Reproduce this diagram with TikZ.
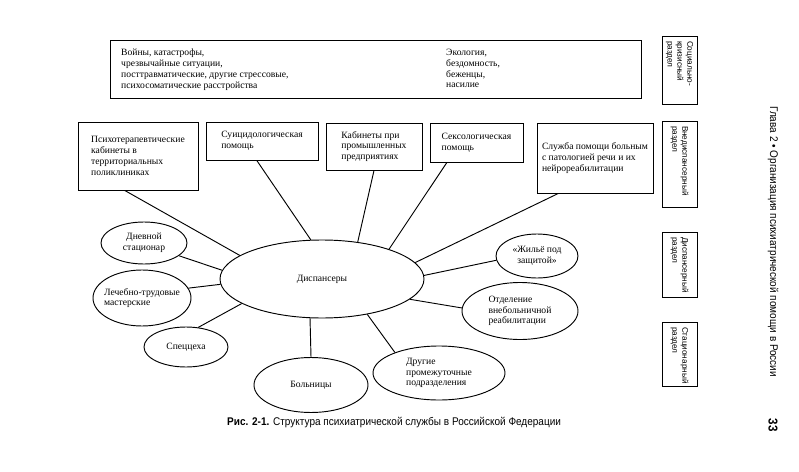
\documentclass[tikz,border=0pt]{standalone}
\usepackage{fontspec}
\setmainfont{Liberation Serif}
\newfontfamily\capfont[FakeStretch=0.9]{Liberation Sans}
\newfontfamily\sidefont{Liberation Sans}
\usetikzlibrary{shapes.geometric}

\begin{document}
\begin{tikzpicture}[x=0.03cm, y=-0.03cm,
  every node/.style={font=\fontsize{8.2}{9.2}\selectfont},
  unitbox/.style={draw, line width=0.8pt, inner sep=0pt, align=left},
  oval/.style={draw, ellipse, line width=0.8pt, inner sep=-0.5cm, align=center},
  sidebox/.style={draw, line width=0.8pt, rotate=-90, minimum height=1.05cm,
    inner xsep=0.15cm, inner ysep=0pt, align=left, font=\sidefont\fontsize{7}{8.5}\selectfont},
  link/.style={line width=0.8pt}]
\useasboundingbox (0,0) rectangle (799,472);

% top box
\node[draw, line width=0.8pt, minimum width=15.93cm, minimum height=1.74cm] (crisis) at (375.5,69) {};
\node[anchor=north west, inner sep=0pt, align=left] (war) at (121,49)
  {Войны, катастрофы,\\чрезвычайные ситуации,\\посттравматические, другие стрессовые,\\психосоматические расстройства};
\node[anchor=north west, inner sep=0pt, align=left] (eco) at (446,49)
  {Экология,\\бездомность,\\беженцы,\\насилие};

% outpatient units
\node[unitbox, minimum width=3.6cm, minimum height=2.04cm] (psy) at (138,156)
  {Психотерапевтические\\кабинеты в\\территориальных\\поликлиниках};
\node[unitbox, minimum width=3.36cm, minimum height=1.14cm] (suic) at (262,141)
  {Суицидологическая\\помощь};
\node[unitbox, minimum width=2.88cm, minimum height=1.41cm] (ind) at (374,146.5)
  {Кабинеты при\\промышленных\\предприятиях};
\node[unitbox, minimum width=2.79cm, minimum height=1.17cm] (sex) at (476.5,142.5)
  {Сексологическая\\помощь};
\node[unitbox, minimum width=3.48cm, minimum height=2.1cm] (speech) at (595,158)
  {Служба помощи больным\\с патологией речи и их\\нейрореабилитации};

% dispensary and the rest
\node[oval, minimum width=6.12cm, minimum height=2.34cm] (disp) at (322,279) {Диспансеры};
\node[oval, minimum width=2.58cm, minimum height=1.26cm] (day) at (144,243) {Дневной\\стационар};
\node[oval, align=left, minimum width=2.94cm, minimum height=1.68cm] (work) at (142,298)
  {Лечебно-трудовые\\мастерские};
\node[oval, minimum width=2.52cm, minimum height=1.2cm] (shop) at (186,347) {Спеццеха};
\node[oval, minimum width=3.42cm, minimum height=1.65cm] (hosp) at (311,385) {Больницы};
\node[oval, align=left, minimum width=3.96cm, minimum height=1.62cm] (other) at (439,373)
  {Другие\\промежуточные\\подразделения};
\node[oval, align=left, minimum width=3.48cm, minimum height=1.71cm] (rehab) at (520,311)
  {Отделение\\внебольничной\\реабилитации};
\node[oval, minimum width=2.46cm, minimum height=1.32cm] (home) at (537,256) {«Жильё под\\защитой»};

\draw[link] (psy.-111) -- (disp.164);
\draw[link] (suic.-105) -- (disp.106);
\draw[link] (ind.south) -- (disp.46);
\draw[link] (sex.-146.5) -- (disp.24);
\draw[link] (speech.-136.5) -- (disp.10.6);
\draw[link] (home.186) -- (disp.2);
\draw[link] (rehab.177) -- (disp.-13.6);
\draw[link] (other.155) -- (disp.-38);
\draw[link] (hosp.north) -- (disp.-107);
\draw[link] (shop.58) -- (disp.197.5);
\draw[link] (work.12) -- (disp.183);
\draw[link] (day.-20) -- (disp.175);

% sections
\node[sidebox, minimum width=2.04cm, text width=1.74cm] (secCrisis) at (679.5,70)
  {Социально-\\кризисный\\раздел};
\node[sidebox, minimum width=2.58cm, text width=2.28cm] (secOut) at (679.5,164)
  {Внедиспансерный\\раздел};
\node[sidebox, minimum width=1.95cm, text width=1.65cm] (secDisp) at (679.5,264.5)
  {Диспансерный\\раздел};
\node[sidebox, minimum width=1.92cm, text width=1.62cm] (secHosp) at (679.5,354)
  {Стационарный\\раздел};

% caption and page
\node[anchor=west, inner sep=0pt, font=\capfont\fontsize{9.5}{11}\selectfont] (cap) at (227,423)
  {\textbf{Рис. 2-1.} Структура психиатрической службы в Российской Федерации};
\node[rotate=-90, anchor=west, inner sep=0pt, font=\capfont\fontsize{9.5}{11}\selectfont] (chap) at (773,106)
  {Глава 2 • Организация психиатрической помощи в России};
\node[rotate=-90, inner sep=0pt, font=\capfont\bfseries\fontsize{11}{12}\selectfont] (page) at (773,425) {33};
\end{tikzpicture}
\end{document}
